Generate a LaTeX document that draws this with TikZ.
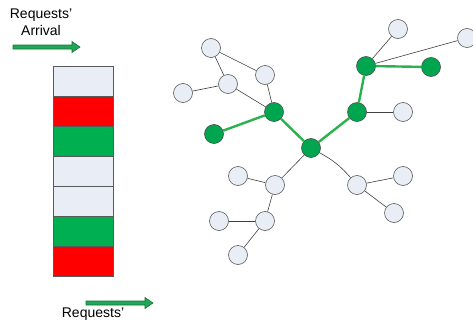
\documentclass[tikz,border=0pt]{standalone}
\usepackage{fontspec}
\setmainfont{Liberation Sans}
\begin{document}
\begin{tikzpicture}[x=1pt,y=-1pt,
  lnode/.style={circle,draw=black!65,fill=lightcell,line width=0.6pt,minimum size=19pt,inner sep=0pt},
  gnode/.style={circle,draw=black!70,fill=gnodefill,line width=0.6pt,minimum size=19pt,inner sep=0pt},
  gedge/.style={draw=gedgecol,line width=2.4pt},
  ledge/.style={draw=black!75,line width=0.6pt},
  cell/.style={draw=black!65,line width=0.6pt},
  bigarrow/.style={fill=arrowfill,draw=arrowdraw,line width=0.6pt},
  lbl/.style={font=\fontsize{14}{17}\selectfont,align=center,inner sep=0pt}]
\definecolor{lightcell}{HTML}{E9EDF6}
\definecolor{gnodefill}{HTML}{00A64F}
\definecolor{gedgecol}{HTML}{2BB24C}
\definecolor{cellred}{HTML}{FF0000}
\definecolor{cellgreen}{HTML}{00B050}
\definecolor{arrowfill}{HTML}{1FA855}
\definecolor{arrowdraw}{HTML}{17733A}
\useasboundingbox (0,0) rectangle (473,324);
\clip (0,0) rectangle (473,324);
% labels
\node[lbl] (arrlbl) at (41,22) {Requests'\\Arrival};
\node[lbl,anchor=north] (deplbl) at (93,308) {Requests'};
% arrows
\draw[bigarrow] (13,45) -- (72,45) -- (72,41.5) -- (80,47) -- (72,52.5) -- (72,49) -- (13,49) -- cycle;
\draw[bigarrow] (86,301) -- (145,301) -- (145,297.5) -- (153,303) -- (145,308.5) -- (145,305) -- (86,305) -- cycle;
% queue
\path[cell,fill=lightcell] (53,66) rectangle (113,96);
\path[cell,fill=cellred] (53,96) rectangle (113,126);
\path[cell,fill=cellgreen] (53,126) rectangle (113,156);
\path[cell,fill=lightcell] (53,156) rectangle (113,186);
\path[cell,fill=lightcell] (53,186) rectangle (113,216);
\path[cell,fill=cellgreen] (53,216) rectangle (113,246);
\path[cell,fill=cellred] (53,246) rectangle (113,276);
% nodes
\node[lnode] (n1) at (211,48) {};
\node[lnode] (n2) at (265,75) {};
\node[lnode] (n3) at (228,84) {};
\node[lnode] (n4) at (183,93) {};
\node[gnode] (g1) at (274,112) {};
\node[gnode] (g2) at (214,134) {};
\node[gnode] (g3) at (311,148) {};
\node[gnode] (g4) at (357,112) {};
\node[gnode] (g5) at (366,66) {};
\node[gnode] (g6) at (431,67) {};
\node[lnode] (n5) at (398,29) {};
\node[lnode] (n6) at (467,38) {};
\node[lnode] (n7) at (403,112) {};
\node[lnode] (n8) at (238,176) {};
\node[lnode] (n9) at (275,185) {};
\node[lnode] (n10) at (219,221) {};
\node[lnode] (n11) at (265,221) {};
\node[lnode] (n12) at (238,255) {};
\node[lnode] (n13) at (357,185) {};
\node[lnode] (n14) at (403,176) {};
\node[lnode] (n15) at (394,213) {};
% edges
\path[ledge] (n1) -- (n2);
\path[ledge] (n1) -- (n3);
\path[ledge] (n3) -- (n4);
\path[ledge] (n3) -- (g1);
\path[ledge] (n2) -- (g1);
\path[ledge] (g5) -- (n5);
\path[ledge] (g5) -- (n6);
\path[ledge] (g4) -- (n7);
\path[ledge] (g3) -- (n9);
\path[ledge] (g3) to[bend left=10] (n13);
\path[ledge] (n9) -- (n8);
\path[ledge] (n9) -- (n11);
\path[ledge] (n11) -- (n10);
\path[ledge] (n11) -- (n12);
\path[ledge] (n13) -- (n14);
\path[ledge] (n13) -- (n15);
\path[gedge] (g1) -- (g2);
\path[gedge] (g1) -- (g3);
\path[gedge] (g3) -- (g4);
\path[gedge] (g4) -- (g5);
\path[gedge] (g5) -- (g6);
\end{tikzpicture}
\end{document}
